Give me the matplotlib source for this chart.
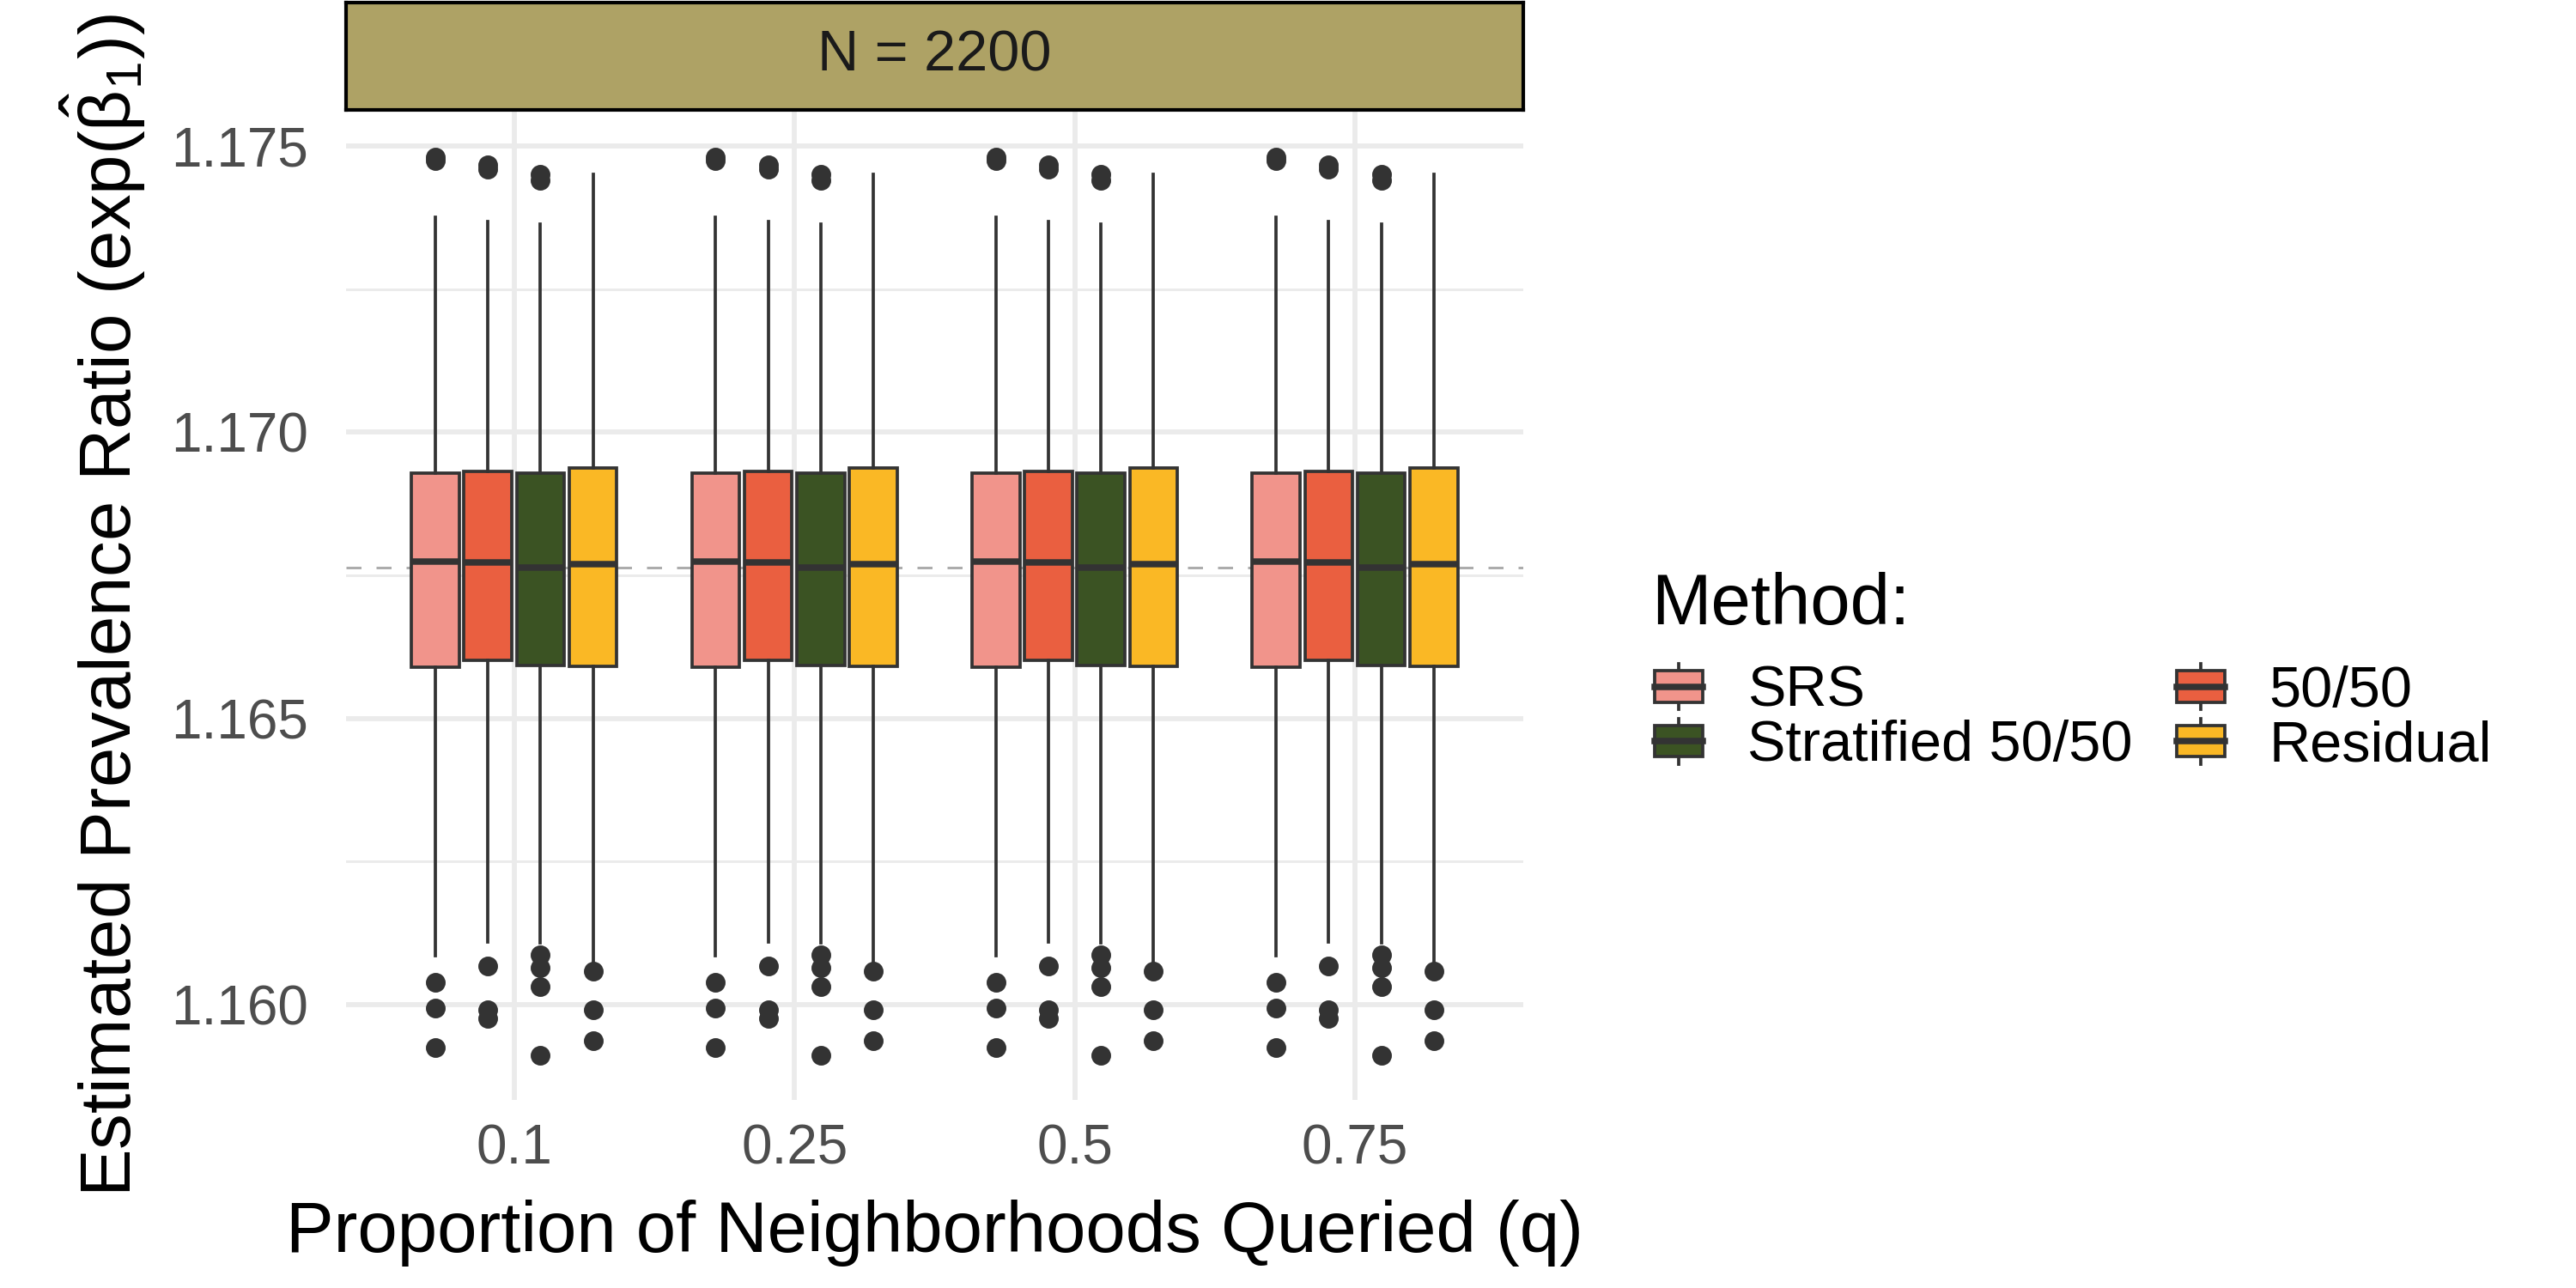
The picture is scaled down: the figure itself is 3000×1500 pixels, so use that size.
import numpy as np
import matplotlib
matplotlib.use('Agg')
import matplotlib.pyplot as plt
from matplotlib.patches import Rectangle
from matplotlib.lines import Line2D
from matplotlib.legend_handler import HandlerBase

plt.rcParams['font.family'] = ['Liberation Sans', 'DejaVu Sans']
plt.rcParams['mathtext.fontset'] = 'custom'
plt.rcParams['mathtext.rm'] = 'Liberation Sans'
plt.rcParams['mathtext.it'] = 'Liberation Sans:italic'

# data ------------------------------------------------------------------------
q_labels = ['0.1', '0.25', '0.5', '0.75']
methods = ['SRS', '50/50', 'Stratified 50/50', 'Residual']
colors = ['#F1948B', '#EA5F40', '#3B5323', '#FAB825']

# boxplot summaries per method (the same for every q)
whislo = [1.16085, 1.16109, 1.16107, 1.16073]
q1 = [1.16590, 1.16601, 1.16593, 1.16591]
med = [1.16774, 1.16772, 1.16764, 1.16769]
q3 = [1.16928, 1.16931, 1.16928, 1.16937]
whishi = [1.17376, 1.17368, 1.17364, 1.17451]
fliers_srs = [1.17481, 1.17475, 1.16039, 1.15994, 1.15924]
fliers_5050 = [1.17467, 1.17460, 1.16067, 1.15990, 1.15975]
fliers_strat = [1.17450, 1.17440, 1.16087, 1.16064, 1.16031, 1.15911]
fliers_resid = [1.16058, 1.15991, 1.15937]
fliers = [fliers_srs, fliers_5050, fliers_strat, fliers_resid]

true_pr = 1.16764
y_ticks = [1.160, 1.165, 1.170, 1.175]
y_minor = [1.1625, 1.1675, 1.1725]

line_col = '#333333'


class BoxKey(HandlerBase):
    # small boxplot glyph for the legend, like ggplot's draw_key_boxplot
    def create_artists(self, legend, orig_handle, xdescent, ydescent,
                       width, height, fontsize, trans):
        x0 = -xdescent
        y0 = -ydescent
        bh = height * 0.68
        by = y0 + (height - bh) / 2
        xc = x0 + width / 2
        rect = Rectangle((x0, by), width, bh, facecolor=orig_handle.get_facecolor(),
                         edgecolor=line_col, lw=0.9, transform=trans)
        wtop = Line2D([xc, xc], [by + bh, y0 + height], color=line_col, lw=0.9, transform=trans)
        wbot = Line2D([xc, xc], [y0, by], color=line_col, lw=0.9, transform=trans)
        mid = Line2D([x0, x0 + width], [by + bh / 2] * 2, color=line_col, lw=1.8, transform=trans)
        return [wbot, wtop, rect, mid]


fig = plt.figure(figsize=(10, 5), dpi=300)
ax = fig.add_axes([0.1343, 0.146, 0.4570, 0.768])

dodge = 0.1875
box_w = 0.17
offsets = (np.arange(len(methods)) - 1.5) * dodge

ax.axhline(true_pr, color='#AAAAAA', lw=0.7, linestyle=(0, (6, 6)), zorder=1)

for m in range(len(methods)):
    stats = []
    for i in range(len(q_labels)):
        stats.append(dict(whislo=whislo[m], q1=q1[m], med=med[m], q3=q3[m],
                          whishi=whishi[m], fliers=fliers[m]))
    pos = np.arange(1, len(q_labels) + 1) + offsets[m]
    ax.bxp(stats, positions=pos, widths=box_w, patch_artist=True, showcaps=False,
           boxprops=dict(facecolor=colors[m], edgecolor=line_col, lw=0.9),
           whiskerprops=dict(color=line_col, lw=0.9),
           medianprops=dict(color=line_col, lw=1.8),
           flierprops=dict(marker='o', markerfacecolor=line_col, markeredgecolor=line_col,
                           markersize=4.5),
           zorder=2, manage_ticks=False)

ax.set_xlim(0.4, 4.6)
ax.set_ylim(1.158331, 1.175615)
ax.set_xticks(np.arange(1, len(q_labels) + 1))
ax.set_xticklabels(q_labels)
ax.set_yticks(y_ticks)
ax.set_yticklabels(['%.3f' % v for v in y_ticks])
ax.set_yticks(y_minor, minor=True)
ax.tick_params(axis='both', which='both', length=0, labelsize=15.3, colors='#4D4D4D')
ax.tick_params(axis='x', pad=6.5)
ax.tick_params(axis='y', pad=10.5)
ax.grid(True, which='major', color='#EBEBEB', lw=1.4)
ax.grid(True, which='minor', axis='y', color='#EBEBEB', lw=0.7)
ax.set_axisbelow(True)
for s in ax.spines.values():
    s.set_visible(False)

ax.set_xlabel('Proportion of Neighborhoods Queried (q)', fontsize=20, labelpad=7)
ax.set_ylabel(r'Estimated Prevalence Ratio (exp($\hat{\mathrm{\beta}}_1$))', fontsize=20, labelpad=6.5)

# facet strip
strip = fig.add_axes([0.1343, 0.9147, 0.4570, 0.0833])
strip.set_facecolor('#AEA265')
strip.set_xticks([])
strip.set_yticks([])
for s in strip.spines.values():
    s.set_color('black')
    s.set_linewidth(1.0)
strip.text(0.5, 0.5, 'N = 2200', ha='center', va='center', fontsize=16,
           color='#1A1A1A', transform=strip.transAxes)

# legend
handles = [Rectangle((0, 0), 1, 1, facecolor=c) for c in colors]
order = [0, 2, 1, 3]
fig.text(0.641, 0.5153, 'Method:', fontsize=20, ha='left', va='baseline')
fig.legend([handles[i] for i in order], [methods[i] for i in order],
           handler_map={Rectangle: BoxKey()}, ncol=2, loc='upper left',
           bbox_to_anchor=(0.6423, 0.4847), frameon=False, fontsize=16,
           borderpad=0, borderaxespad=0, handlelength=0.84, handleheight=0.85,
           handletextpad=0.78, labelspacing=0.0, columnspacing=0.77)

plt.savefig('out.png', dpi=300)
